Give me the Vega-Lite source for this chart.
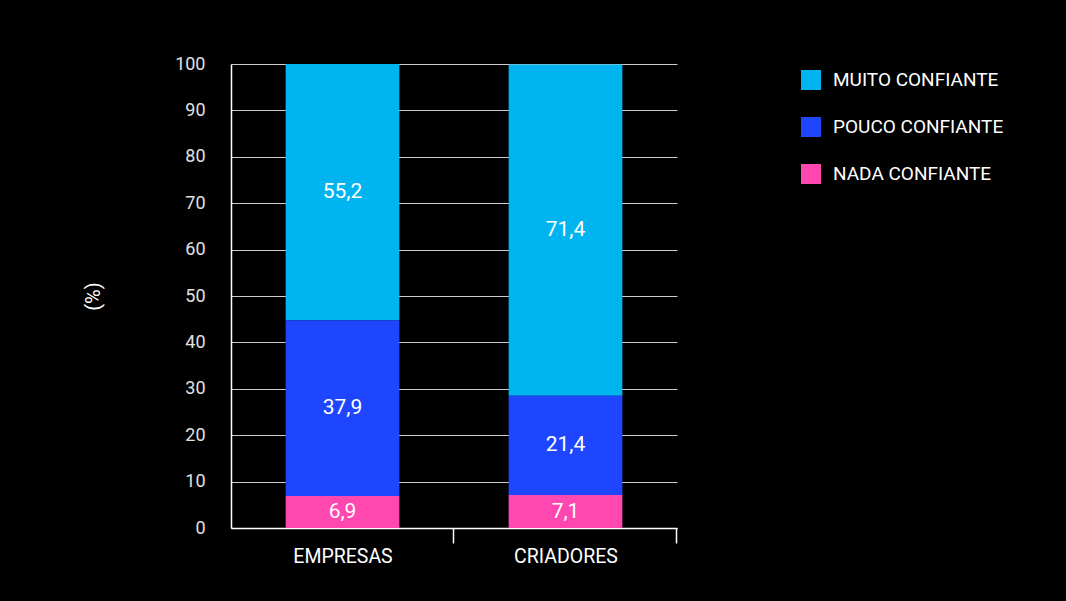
{
  "$schema": "https://vega.github.io/schema/vega-lite/v6.json",
  "width": 446,
  "height": 464,
  "autosize": {"type": "none"},
  "padding": {"left": 231, "top": 64, "right": 389, "bottom": 73},
  "background": "#000000",
  "config": {
    "view": {"stroke": null},
    "font": "Roboto, sans-serif",
    "locale": {"number": {"decimal": ",", "thousands": ".", "grouping": [3], "currency": ["", ""]}}
  },
  "data": {
    "values": [
      {"grupo": "EMPRESAS", "nivel": "MUITO CONFIANTE", "ordem": 3, "valor": 55.2},
      {"grupo": "EMPRESAS", "nivel": "POUCO CONFIANTE", "ordem": 2, "valor": 37.9},
      {"grupo": "EMPRESAS", "nivel": "NADA CONFIANTE", "ordem": 1, "valor": 6.9},
      {"grupo": "CRIADORES", "nivel": "MUITO CONFIANTE", "ordem": 3, "valor": 71.4},
      {"grupo": "CRIADORES", "nivel": "POUCO CONFIANTE", "ordem": 2, "valor": 21.4},
      {"grupo": "CRIADORES", "nivel": "NADA CONFIANTE", "ordem": 1, "valor": 7.1}
    ]
  },
  "encoding": {
    "x": {
      "field": "grupo",
      "type": "nominal",
      "sort": ["EMPRESAS", "CRIADORES"],
      "scale": {"paddingInner": 0.49, "paddingOuter": 0.245},
      "axis": {
        "title": null,
        "labelAngle": 0,
        "labelColor": "#ffffff",
        "labelFontSize": 19.5,
        "labelPadding": 4,
        "domainColor": "#ffffff",
        "domainWidth": 1.5,
        "tickColor": "#ffffff",
        "tickWidth": 1.5,
        "tickSize": 15,
        "bandPosition": 1,
        "tickOffset": 54,
        "labelOffset": -54
      }
    },
    "y": {
      "field": "valor",
      "type": "quantitative",
      "stack": "zero",
      "scale": {"domain": [0, 100], "nice": false},
      "axis": {
        "title": "(%)",
        "titleColor": "#ffffff",
        "titleFontSize": 20,
        "titleFontWeight": "normal",
        "titleX": -138,
        "titleY": 232,
        "titleAlign": "center",
        "titleBaseline": "middle",
        "values": [0, 10, 20, 30, 40, 50, 60, 70, 80, 90, 100],
        "labelColor": "#e0e0e0",
        "labelFontSize": 18,
        "labelPadding": 26,
        "ticks": false,
        "domainColor": "#ffffff",
        "domainWidth": 1.5,
        "gridColor": "#cccccc",
        "gridWidth": 1
      }
    }
  },
  "layer": [
    {
      "mark": {"type": "bar"},
      "encoding": {
        "color": {
          "field": "nivel",
          "type": "nominal",
          "scale": {
            "domain": ["MUITO CONFIANTE", "POUCO CONFIANTE", "NADA CONFIANTE"],
            "range": ["#00b4f0", "#1f46ff", "#ff47b0"]
          },
          "legend": {
            "title": null,
            "orient": "none",
            "legendX": 570,
            "legendY": 6,
            "symbolType": "square",
            "symbolSize": 400,
            "symbolStrokeWidth": 0,
            "symbolOpacity": 1,
            "labelColor": "#ffffff",
            "labelFontSize": 19,
            "labelLimit": 0,
            "labelOffset": 12,
            "rowPadding": 27,
            "padding": 0
          }
        },
        "order": {"field": "ordem", "type": "quantitative"}
      }
    },
    {
      "mark": {"type": "text", "color": "#ffffff", "fontSize": 21, "baseline": "middle"},
      "encoding": {
        "y": {"field": "valor", "type": "quantitative", "stack": "zero", "bandPosition": 0.5},
        "detail": {"field": "nivel"},
        "order": {"field": "ordem", "type": "quantitative"},
        "text": {"field": "valor", "type": "quantitative", "format": ".1f"}
      }
    }
  ]
}
